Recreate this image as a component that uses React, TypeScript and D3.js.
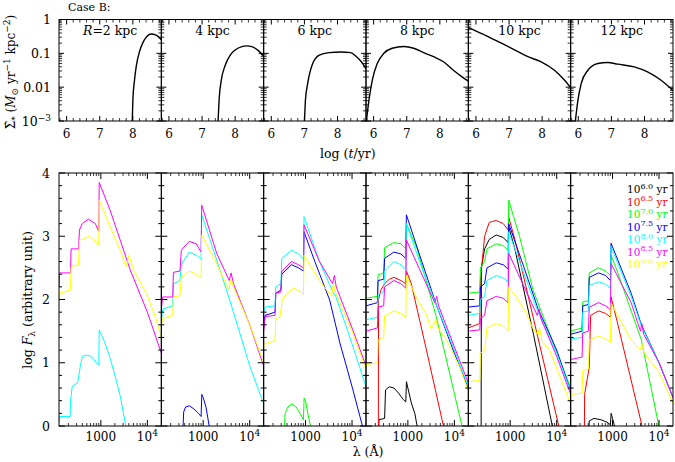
import React from 'react';
import * as d3 from 'd3';

// ---------- categories / labels ----------
const AGES = ['6.0', '6.5', '7.0', '7.5', '8.0', '8.5', '9.0'];
const AGE_COLORS = ['#000000', '#ff0000', '#00ff00', '#0000ff', '#00ffff', '#ff00ff', '#ffff00'];
const RADII = ['2', '4', '6', '8', '10', '12'];
const TOP_X_TICKS = [6, 7, 8];
const TOP_Y_TICKS = [0, -1, -2, -3];
const BOT_Y_TICKS = [0, 1, 2, 3, 4];
const BOT_X_MAJOR = [1000, 10000];
const BOT_X_MINOR = [200, 300, 400, 500, 600, 700, 800, 900, 2000, 3000, 4000, 5000, 6000, 7000, 8000, 9000];

// ---------- star formation histories: [log t/yr, log SFR] ----------
const sfrR2 = [[7.98, -3.1], [8.0, -2.38], [8.05, -1.79], [8.1, -1.4], [8.2, -0.95], [8.3, -0.69], [8.4, -0.53], [8.55, -0.43], [8.7, -0.46], [8.86, -0.6]];
const sfrR4 = [[7.48, -3.1], [7.52, -2.3], [7.58, -1.8], [7.7, -1.35], [7.85, -1.05], [8.0, -0.9], [8.2, -0.8], [8.35, -0.78], [8.5, -0.8], [8.7, -0.92], [8.86, -1.08]];
const sfrR6 = [[7.0, -3.1], [7.03, -2.4], [7.1, -1.89], [7.25, -1.3], [7.45, -1.05], [7.75, -0.98], [8.1, -0.96], [8.4, -0.98], [8.55, -1.08], [8.72, -1.25], [8.86, -1.45]];
const sfrR8 = [[5.77, -3.1], [5.86, -2.38], [5.96, -1.79], [6.11, -1.3], [6.31, -1.0], [6.56, -0.85], [6.91, -0.8], [7.21, -0.85], [7.51, -0.98], [7.81, -1.1], [8.11, -1.25], [8.41, -1.5], [8.66, -1.69], [8.86, -1.82]];
const sfrR10 = [[5.77, -0.24], [5.82, -0.26], [6.27, -0.46], [6.77, -0.7], [7.27, -0.95], [7.57, -1.1], [7.97, -1.25], [8.37, -1.5], [8.67, -1.79], [8.86, -2.02]];
const sfrR12 = [[5.9, -3.1], [5.99, -2.38], [6.09, -1.89], [6.29, -1.5], [6.59, -1.3], [6.89, -1.27], [7.19, -1.32], [7.69, -1.4], [8.09, -1.55], [8.49, -1.79], [8.86, -2.1]];
const SFR = [sfrR2, sfrR4, sfrR6, sfrR8, sfrR10, sfrR12];

// ---------- spectra: [log lambda/A, log F] ; age index into AGES ----------
const specR2 = [
  { age: 4, pts: [[2.10, 0.05], [2.115, 0.15], [2.34, 0.15], [2.35, 0.41], [2.385, 0.63], [2.5, 0.68], [2.557, 0.94], [2.6, 1.1], [2.7, 1.12], [2.8, 1.1], [2.92, 0.98], [2.955, 0.97], [2.965, 1.52], [3.09, 1.31], [3.2, 1.07], [3.31, 0.78], [3.42, 0.46], [3.55, -0.05]] },
  { age: 5, pts: [[2.10, 2.2], [2.115, 2.42], [2.345, 2.42], [2.36, 2.8], [2.52, 2.8], [2.54, 3.1], [2.6, 3.2], [2.73, 3.27], [2.88, 3.2], [2.955, 3.08], [2.965, 3.85], [3.2, 3.41], [3.415, 2.94], [3.63, 2.47], [3.845, 2.08], [4.0, 1.8], [4.3, 1.15]] },
  { age: 6, pts: [[2.10, 1.92], [2.12, 2.1], [2.345, 2.15], [2.36, 2.52], [2.52, 2.55], [2.54, 2.94], [2.6, 2.95], [2.75, 3.0], [2.88, 2.92], [2.955, 2.85], [2.965, 3.57], [3.2, 3.15], [3.415, 2.78], [3.545, 2.52], [3.6, 2.7], [3.7, 2.47], [3.99, 2.08], [4.17, 1.73], [4.3, 1.4]] },
];
const specR4 = [
  { age: 3, pts: [[2.565, -0.05], [2.58, 0.22], [2.62, 0.3], [2.7, 0.32], [2.8, 0.27], [2.9, 0.2], [2.955, 0.15], [2.97, 0.5], [3.0, 0.45], [3.06, 0.3], [3.14, -0.05]] },
  { age: 4, pts: [[2.10, 1.65], [2.13, 1.85], [2.345, 1.9], [2.36, 2.25], [2.5, 2.3], [2.53, 2.55], [2.7, 2.75], [2.85, 2.7], [2.955, 2.64], [2.968, 3.34], [3.36, 2.47], [3.58, 1.97], [4.0, 0.95], [4.3, 0.35]] },
  { age: 5, pts: [[2.10, 1.85], [2.13, 2.04], [2.345, 2.04], [2.36, 2.43], [2.5, 2.45], [2.53, 2.78], [2.7, 2.92], [2.85, 2.88], [2.955, 2.75], [2.968, 3.49], [3.29, 2.73], [3.56, 2.3], [3.6, 2.42], [3.65, 2.25], [4.0, 1.6], [4.3, 0.95]] },
  { age: 6, pts: [[2.10, 1.6], [2.13, 1.7], [2.345, 1.75], [2.36, 2.04], [2.5, 2.06], [2.53, 2.35], [2.7, 2.45], [2.85, 2.4], [2.955, 2.34], [2.968, 3.02], [3.3, 2.55], [3.55, 2.15], [3.6, 2.33], [3.65, 2.2], [4.0, 1.6], [4.3, 1.0]] },
];
const specR6 = [
  { age: 2, pts: [[2.545, -0.05], [2.56, 0.2], [2.62, 0.3], [2.7, 0.35], [2.8, 0.3], [2.88, 0.2], [2.955, 0.1], [2.97, 0.44], [3.0, 0.4], [3.05, 0.2], [3.12, -0.05]] },
  { age: 3, pts: [[2.10, 1.55], [2.13, 1.75], [2.345, 1.8], [2.36, 2.1], [2.47, 2.15], [2.49, 2.4], [2.7, 2.55], [2.85, 2.5], [2.955, 2.45], [2.968, 3.07], [3.2, 2.6], [3.52, 1.99], [3.74, 1.31], [4.02, 0.57], [4.23, -0.02]] },
  { age: 4, pts: [[2.10, 1.8], [2.13, 1.88], [2.345, 1.9], [2.36, 2.2], [2.47, 2.25], [2.49, 2.65], [2.7, 2.78], [2.85, 2.72], [2.955, 2.64], [2.968, 3.31], [3.3, 2.6], [3.6, 2.1], [3.65, 2.05], [4.0, 1.3], [4.3, 0.62]] },
  { age: 5, pts: [[2.10, 1.5], [2.13, 1.73], [2.345, 1.75], [2.36, 2.1], [2.47, 2.12], [2.49, 2.45], [2.7, 2.6], [2.85, 2.55], [2.955, 2.5], [2.968, 3.18], [3.3, 2.6], [3.58, 2.25], [3.62, 2.38], [3.66, 2.2], [4.0, 1.55], [4.3, 0.95]] },
  { age: 6, pts: [[2.10, 1.25], [2.13, 1.3], [2.345, 1.35], [2.36, 1.7], [2.45, 1.72], [2.5, 2.0], [2.6, 2.1], [2.75, 2.18], [2.9, 2.12], [2.955, 2.08], [2.968, 2.7], [3.3, 2.3], [3.56, 2.05], [3.6, 2.25], [3.65, 2.1], [4.0, 1.5], [4.3, 0.9]] },
];
const specR8 = [
  { age: 0, pts: [[2.37, -0.05], [2.38, 0.1], [2.5, 0.12], [2.52, 0.57], [2.6, 0.62], [2.7, 0.6], [2.8, 0.52], [2.9, 0.42], [2.955, 0.38], [2.97, 0.7], [3.0, 0.6], [3.08, 0.35], [3.15, 0.2], [3.21, -0.05]] },
  { age: 1, pts: [[2.365, -0.1], [2.37, 2.0], [2.42, 2.15], [2.5, 2.25], [2.6, 2.32], [2.7, 2.35], [2.85, 2.3], [2.955, 2.25], [2.968, 2.45], [3.07, 2.26], [3.4, 1.2], [3.78, -0.05]] },
  { age: 2, pts: [[2.10, 2.02], [2.345, 2.05], [2.36, 2.39], [2.48, 2.42], [2.5, 2.82], [2.7, 2.9], [2.85, 2.88], [2.955, 2.8], [2.968, 3.2], [3.2, 2.8], [3.61, 1.73], [4.18, -0.05]] },
  { age: 3, pts: [[2.10, 1.9], [2.345, 1.95], [2.36, 2.3], [2.48, 2.32], [2.5, 2.65], [2.7, 2.75], [2.85, 2.72], [2.955, 2.65], [2.968, 3.34], [3.3, 2.6], [3.62, 1.9], [4.0, 1.15], [4.3, 0.6]] },
  { age: 4, pts: [[2.10, 1.68], [2.345, 1.72], [2.36, 2.08], [2.48, 2.12], [2.5, 2.45], [2.7, 2.6], [2.85, 2.55], [2.955, 2.48], [2.968, 3.2], [3.3, 2.5], [3.62, 1.9], [4.0, 1.2], [4.3, 0.62]] },
  { age: 5, pts: [[2.10, 1.5], [2.345, 1.55], [2.36, 1.88], [2.48, 1.9], [2.5, 2.2], [2.7, 2.3], [2.85, 2.25], [2.955, 2.18], [2.968, 2.94], [3.3, 2.4], [3.58, 1.95], [3.62, 2.05], [3.66, 1.9], [4.0, 1.25], [4.3, 0.68]] },
  { age: 6, pts: [[2.10, 0.97], [2.345, 1.0], [2.36, 1.36], [2.48, 1.4], [2.5, 1.74], [2.7, 1.82], [2.85, 1.78], [2.955, 1.72], [2.968, 2.38], [3.21, 1.99], [3.39, 1.78], [3.5, 1.54], [3.6, 1.68], [3.65, 1.55], [3.83, 1.36], [4.11, 0.94], [4.3, 0.55]] },
];
const specR10 = [
  { age: 0, pts: [[2.375, -0.1], [2.38, 2.5], [2.45, 2.8], [2.55, 2.95], [2.7, 3.02], [2.85, 2.98], [2.955, 2.9], [2.968, 3.15], [3.1, 2.8], [3.5, 1.45], [3.92, -0.05]] },
  { age: 1, pts: [[2.10, 1.55], [2.2, 1.58], [2.345, 1.62], [2.36, 2.3], [2.45, 3.0], [2.55, 3.22], [2.7, 3.25], [2.85, 3.2], [2.955, 3.1], [2.968, 3.3], [3.1, 2.95], [4.06, -0.05]] },
  { age: 2, pts: [[2.10, 2.1], [2.345, 2.12], [2.36, 2.5], [2.45, 2.6], [2.5, 2.8], [2.7, 2.88], [2.85, 2.85], [2.955, 2.78], [2.968, 3.57], [3.2, 3.0], [3.49, 2.15], [4.3, 0.6]] },
  { age: 3, pts: [[2.10, 1.88], [2.345, 1.9], [2.36, 2.2], [2.45, 2.25], [2.5, 2.5], [2.7, 2.58], [2.85, 2.55], [2.955, 2.48], [2.968, 3.2], [3.3, 2.5], [3.6, 1.85], [4.0, 1.2], [4.3, 0.55]] },
  { age: 4, pts: [[2.10, 1.75], [2.345, 1.78], [2.36, 2.0], [2.45, 2.05], [2.5, 2.3], [2.7, 2.38], [2.85, 2.34], [2.955, 2.28], [2.968, 3.07], [3.3, 2.4], [3.6, 1.8], [4.0, 1.15], [4.3, 0.55]] },
  { age: 5, pts: [[2.10, 1.5], [2.345, 1.52], [2.36, 1.7], [2.45, 1.75], [2.5, 1.98], [2.7, 2.05], [2.85, 2.02], [2.955, 1.95], [2.968, 2.73], [3.3, 2.2], [3.58, 1.75], [3.62, 1.85], [3.66, 1.7], [4.0, 1.1], [4.3, 0.5]] },
  { age: 6, pts: [[2.10, 0.7], [2.345, 0.72], [2.36, 1.15], [2.45, 1.2], [2.5, 1.55], [2.7, 1.62], [2.85, 1.58], [2.955, 1.5], [2.968, 2.2], [3.13, 2.04], [3.35, 1.78], [3.49, 1.54], [3.6, 1.45], [3.63, 1.55], [3.68, 1.35], [3.85, 1.19], [4.3, 0.35]] },
];
const specR12 = [
  { age: 0, pts: [[2.49, -0.05], [2.5, 0.08], [2.6, 0.12], [2.75, 0.1], [2.88, 0.06], [2.955, 0.02], [2.97, 0.2], [3.0, 0.12], [3.06, -0.05]] },
  { age: 1, pts: [[2.395, -0.1], [2.4, 0.5], [2.5, 0.93], [2.53, 1.75], [2.7, 1.82], [2.85, 1.78], [2.955, 1.72], [2.968, 2.04], [3.1, 1.65], [3.65, -0.05]] },
  { age: 2, pts: [[2.10, 1.5], [2.345, 1.55], [2.36, 1.96], [2.48, 1.98], [2.5, 2.42], [2.7, 2.5], [2.85, 2.45], [2.955, 2.38], [2.968, 2.7], [3.1, 2.45], [3.62, 1.36], [4.01, -0.05]] },
  { age: 3, pts: [[2.10, 1.45], [2.345, 1.5], [2.36, 1.9], [2.48, 1.92], [2.5, 2.35], [2.7, 2.42], [2.85, 2.38], [2.955, 2.3], [2.968, 2.89], [3.4, 2.1], [3.62, 1.6], [4.0, 1.0], [4.3, 0.45]] },
  { age: 4, pts: [[2.10, 1.12], [2.12, 1.38], [2.345, 1.4], [2.36, 1.8], [2.48, 1.82], [2.5, 2.22], [2.7, 2.28], [2.85, 2.24], [2.955, 2.18], [2.968, 2.84], [3.4, 2.05], [3.62, 1.58], [4.0, 1.0], [4.3, 0.45]] },
  { age: 5, pts: [[2.10, 1.05], [2.345, 1.09], [2.36, 1.47], [2.48, 1.5], [2.5, 1.88], [2.7, 1.95], [2.85, 1.9], [2.955, 1.84], [2.968, 2.57], [3.4, 1.95], [3.6, 1.5], [3.63, 1.62], [3.67, 1.45], [4.0, 1.0], [4.3, 0.45]] },
  { age: 6, pts: [[2.10, 0.5], [2.345, 0.52], [2.36, 0.88], [2.48, 0.9], [2.5, 1.36], [2.7, 1.42], [2.85, 1.38], [2.955, 1.32], [2.968, 1.94], [3.4, 1.36], [3.6, 1.2], [3.63, 1.3], [3.68, 1.15], [4.0, 0.85], [4.3, 0.36]] },
];
const SPECTRA = [specR2, specR4, specR6, specR8, specR10, specR12];

const FONT = 'DejaVu Serif';

export default function App() {
  const W = 675, H = 462;
  const L = 59, R = 673, N = 6;
  const pw = (R - L) / N;
  const topY = d3.scaleLinear().domain([-3, 0]).range([121, 19.5]);
  const botY = d3.scaleLinear().domain([0, 4]).range([426, 173]);

  const panels = d3.range(N).map((i) => {
    const x0 = L + i * pw;
    return {
      i,
      x0,
      xT: d3.scaleLinear().domain([5.77, 8.86]).range([x0, x0 + pw]),
      xB: d3.scaleLinear().domain([2.1, 4.3]).range([x0, x0 + pw]),
    };
  });

  const topMinorY: number[] = [];
  for (let d = -3; d < 0; d++) for (let m = 2; m <= 9; m++) topMinorY.push(d + Math.log10(m));
  const topMinorX = d3.range(5.8, 8.86, 0.2).filter((v) => Math.abs(v - Math.round(v)) > 0.01);
  const botMinorY = d3.range(0.2, 4, 0.2).filter((v) => Math.abs(v - Math.round(v)) > 0.01);

  const majT = 5, minT = 3;

  return (
    <svg width={W} height={H} style={{ position: 'absolute', left: 0, top: 0, background: '#fff' }} fontFamily={FONT}>
      <defs>
        {panels.map((p) => (
          <React.Fragment key={p.i}>
            <clipPath id={`ct${p.i}`}>
              <rect x={p.x0} y={topY(0)} width={pw} height={topY(-3) - topY(0)} />
            </clipPath>
            <clipPath id={`cb${p.i}`}>
              <rect x={p.x0} y={botY(4)} width={pw} height={botY(0) - botY(4)} />
            </clipPath>
          </React.Fragment>
        ))}
      </defs>

      <text x={68} y={11} fontSize={11}>Case B:</text>

      {/* ---------- top row ---------- */}
      {panels.map((p) => {
        const line = d3.line<number[]>().x((d) => p.xT(d[0])).y((d) => topY(d[1])).curve(d3.curveMonotoneX);
        const x1 = p.x0 + pw;
        return (
          <g key={`t${p.i}`}>
            <path d={line(SFR[p.i] as any) || ''} fill="none" stroke="#000" strokeWidth={1.4} clipPath={`url(#ct${p.i})`} />
            <rect x={p.x0} y={topY(0)} width={pw} height={topY(-3) - topY(0)} fill="none" stroke="#000" strokeWidth={1} />
            {TOP_Y_TICKS.map((v) => (
              <g key={v}>
                <line x1={p.x0} x2={p.x0 + majT} y1={topY(v)} y2={topY(v)} stroke="#000" />
                <line x1={x1} x2={x1 - majT} y1={topY(v)} y2={topY(v)} stroke="#000" />
              </g>
            ))}
            {topMinorY.map((v) => (
              <g key={v}>
                <line x1={p.x0} x2={p.x0 + minT} y1={topY(v)} y2={topY(v)} stroke="#000" strokeWidth={0.8} />
                <line x1={x1} x2={x1 - minT} y1={topY(v)} y2={topY(v)} stroke="#000" strokeWidth={0.8} />
              </g>
            ))}
            {TOP_X_TICKS.map((v) => (
              <g key={v}>
                <line x1={p.xT(v)} x2={p.xT(v)} y1={topY(-3)} y2={topY(-3) - majT} stroke="#000" />
                <line x1={p.xT(v)} x2={p.xT(v)} y1={topY(0)} y2={topY(0) + majT} stroke="#000" />
                <text x={p.xT(v)} y={138} fontSize={12} textAnchor="middle">{v}</text>
              </g>
            ))}
            {topMinorX.map((v) => (
              <g key={v}>
                <line x1={p.xT(v)} x2={p.xT(v)} y1={topY(-3)} y2={topY(-3) - minT} stroke="#000" strokeWidth={0.8} />
                <line x1={p.xT(v)} x2={p.xT(v)} y1={topY(0)} y2={topY(0) + minT} stroke="#000" strokeWidth={0.8} />
              </g>
            ))}
            <text x={p.x0 + pw / 2} y={35} fontSize={12.5} textAnchor="middle">
              {p.i === 0 ? (<><tspan fontStyle="italic">R</tspan>=</>) : null}
              {RADII[p.i]} kpc
            </text>
          </g>
        );
      })}
      {/* top y tick labels */}
      <text x={51} y={topY(0) + 4.5} fontSize={12.5} textAnchor="end">1</text>
      <text x={51} y={topY(-1) + 4.5} fontSize={12.5} textAnchor="end">0.1</text>
      <text x={51} y={topY(-2) + 4.5} fontSize={12.5} textAnchor="end">0.01</text>
      <text x={51} y={topY(-3) + 4.5} fontSize={12.5} textAnchor="end">10<tspan dy={-5} fontSize={9}>−3</tspan></text>
      <text x={320} y={158} fontSize={12.5}>log (<tspan fontStyle="italic">t</tspan>/yr)</text>
      <text transform="translate(15,72) rotate(-90)" fontSize={12} textAnchor="middle">
        Σ̇<tspan dy={3} fontSize={9}>*</tspan><tspan dy={-3}> (</tspan><tspan fontStyle="italic">M</tspan><tspan dy={3} fontSize={9}>⊙</tspan><tspan dy={-3}> yr</tspan><tspan dy={-5} fontSize={9}>−1</tspan><tspan dy={5}> kpc</tspan><tspan dy={-5} fontSize={9}>−2</tspan><tspan dy={5}>)</tspan>
      </text>

      {/* ---------- bottom row ---------- */}
      {panels.map((p) => {
        const line = d3.line<number[]>().x((d) => p.xB(d[0])).y((d) => botY(d[1]));
        const x1 = p.x0 + pw;
        return (
          <g key={`b${p.i}`}>
            <g clipPath={`url(#cb${p.i})`}>
              {SPECTRA[p.i].map((s, k) => (
                <path key={k} d={line(s.pts as any) || ''} fill="none" stroke={AGE_COLORS[s.age]} strokeWidth={1} strokeLinejoin="round" />
              ))}
            </g>
            <rect x={p.x0} y={botY(4)} width={pw} height={botY(0) - botY(4)} fill="none" stroke="#000" strokeWidth={1} />
            {BOT_Y_TICKS.map((v) => (
              <g key={v}>
                <line x1={p.x0} x2={p.x0 + majT + 1} y1={botY(v)} y2={botY(v)} stroke="#000" />
                <line x1={x1} x2={x1 - majT - 1} y1={botY(v)} y2={botY(v)} stroke="#000" />
              </g>
            ))}
            {botMinorY.map((v) => (
              <g key={v}>
                <line x1={p.x0} x2={p.x0 + minT} y1={botY(v)} y2={botY(v)} stroke="#000" />
                <line x1={x1} x2={x1 - minT} y1={botY(v)} y2={botY(v)} stroke="#000" />
              </g>
            ))}
            {BOT_X_MAJOR.map((v) => {
              const x = p.xB(Math.log10(v));
              return (
                <g key={v}>
                  <line x1={x} x2={x} y1={botY(0)} y2={botY(0) - majT - 1} stroke="#000" />
                  <line x1={x} x2={x} y1={botY(4)} y2={botY(4) + majT + 1} stroke="#000" />
                  <text x={x} y={441} fontSize={12} textAnchor="middle">
                    {v === 1000 ? '1000' : (<>10<tspan dy={-5} fontSize={9}>4</tspan></>)}
                  </text>
                </g>
              );
            })}
            {BOT_X_MINOR.map((v) => {
              const x = p.xB(Math.log10(v));
              return (
                <g key={v}>
                  <line x1={x} x2={x} y1={botY(0)} y2={botY(0) - minT} stroke="#000" strokeWidth={0.8} />
                  <line x1={x} x2={x} y1={botY(4)} y2={botY(4) + minT} stroke="#000" strokeWidth={0.8} />
                </g>
              );
            })}
          </g>
        );
      })}
      {BOT_Y_TICKS.map((v) => (
        <text key={v} x={50} y={botY(v) + 4.5} fontSize={12.5} textAnchor="end">{v}</text>
      ))}
      <text x={368} y={456} fontSize={12.5} textAnchor="middle">λ (Å)</text>
      <text transform="translate(32,300) rotate(-90)" fontSize={12.5} textAnchor="middle">
        log <tspan fontStyle="italic">F</tspan><tspan dy={3} fontSize={9}>λ</tspan><tspan dy={-3}> (arbitrary unit)</tspan>
      </text>

      {/* legend */}
      {AGES.map((a, k) => (
        <text key={a} x={627} y={193 + k * 12.5} fontSize={10.5} fill={AGE_COLORS[k]}>
          10<tspan dy={-4.5} fontSize={8}>{a}</tspan><tspan dy={4.5}> yr</tspan>
        </text>
      ))}
    </svg>
  );
}
